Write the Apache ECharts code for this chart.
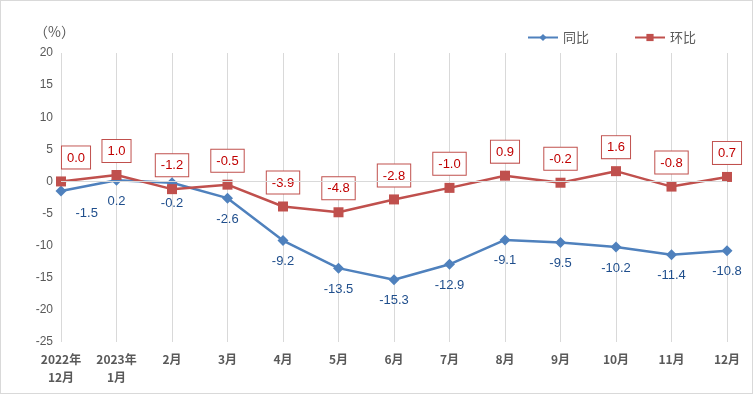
<!DOCTYPE html>
<html><head><meta charset="utf-8">
<script src="https://cdn.jsdelivr.net/npm/echarts@6/dist/echarts.min.js"></script>
<style>html,body{margin:0;padding:0;background:#fff}#c{width:753px;height:394px;box-sizing:border-box;border:1px solid #D9D9D9}</style>
</head><body><div id="c"></div>
<script>
const categories = ['2022年\n12月','2023年\n1月','2月','3月','4月','5月','6月','7月','8月','9月','10月','11月','12月'];
const yoy = [-1.5, 0.2, -0.2, -2.6, -9.2, -13.5, -15.3, -12.9, -9.1, -9.5, -10.2, -11.4, -10.8];
const mom = [0.0, 1.0, -1.2, -0.5, -3.9, -4.8, -2.8, -1.0, 0.9, -0.2, 1.6, -0.8, 0.7];
const seriesNames = ['同比','环比'];
const yTicks = {min: -25, max: 20, interval: 5};

const font = 'Liberation Sans, Noto Sans CJK SC, sans-serif';
const chart = echarts.init(document.getElementById('c'));

const yoyData = yoy.map((v, i) => {
  const d = {value: v};
  if (i === 0) d.label = {position: 'right', offset: [0, 22]};
  return d;
});
const momData = mom.map((v, i) => {
  const d = {value: v};
  if (i === 0) d.label = {offset: [15, 0]};
  return d;
});

chart.setOption({
  animation: false,
  textStyle: {fontFamily: font},
  title: {text: '（%）', left: 28, top: 19, textStyle: {fontSize: 14, fontWeight: 'normal', color: '#595959', fontFamily: 'Noto Sans CJK SC'}},
  legend: {
    top: 25, left: 521, itemGap: 45, itemWidth: 30, itemHeight: 9,
    textStyle: {fontSize: 13, color: '#595959', fontFamily: 'Noto Sans CJK SC'},
    data: seriesNames
  },
  grid: {left: 60, right: 25, top: 52, bottom: 51},
  xAxis: {
    type: 'category', data: categories, boundaryGap: false,
    axisLine: {show: false}, axisTick: {show: false},
    splitLine: {show: true, lineStyle: {color: '#D9D9D9', width: 1}},
    axisLabel: {color: '#595959', fontSize: 12, fontWeight: 'bold', margin: 8, lineHeight: 18, interval: 0, fontFamily: 'Noto Sans CJK SC'}
  },
  yAxis: {
    type: 'value', min: yTicks.min, max: yTicks.max, interval: yTicks.interval,
    axisLine: {show: false}, axisTick: {show: false}, splitLine: {show: false},
    axisLabel: {color: '#595959', fontSize: 12, margin: 8}
  },
  series: [
    {
      name: seriesNames[0], type: 'line', data: yoyData,
      symbol: 'diamond', symbolSize: 11,
      lineStyle: {color: '#4F81BD', width: 2.5}, itemStyle: {color: '#4F81BD'},
      label: {show: true, position: 'bottom', distance: 9, color: '#1F4E8C', fontSize: 13, formatter: p => p.value.toFixed(1)},
      markLine: {silent: true, symbol: 'none', label: {show: false}, lineStyle: {color: '#D9D9D9', type: 'solid', width: 1}, data: [{yAxis: 0}]},
      z: 3
    },
    {
      name: seriesNames[1], type: 'line', data: momData,
      symbol: 'rect', symbolSize: 10,
      lineStyle: {color: '#C0504D', width: 2.5}, itemStyle: {color: '#C0504D'},
      label: {show: true, position: 'top', distance: 8, color: '#C00000', fontSize: 13,
        backgroundColor: '#fff', borderColor: '#C0504D', borderWidth: 1, padding: [5, 5, 4, 5],
        formatter: p => p.value.toFixed(1)},
      z: 4
    }
  ]
});
</script></body></html>
